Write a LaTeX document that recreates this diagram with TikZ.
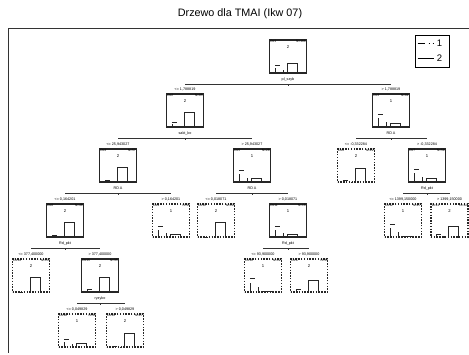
\documentclass[tikz,border=0pt]{standalone}
\usepackage{fontspec}
\setmainfont{Liberation Sans}
\usetikzlibrary{positioning,calc}

% one node of the tree: name, x, y, style, id, N, class, h1, h2
\newcommand{\tnode}[9]{%
  \node[#4] (#1) at (#2,#3) {};
  \node[idl,anchor=north west] (#1id) at ([shift={(1.2,-1)}]#1.north west) {Dx#5};
  \node[idl,anchor=north east] (#1n) at ([shift={(-1.2,-1)}]#1.north east) {N=#6};
  \node[cls] (#1c) at ([yshift=-8]#1.north) {#7};
  \draw[plt] ([xshift=6]#1.south west) -- ++(0,{0.7*#8});
  \draw[plt] ([shift={(6,#8)}]#1.south west) -- ++(5,0);
  \draw[plt] ([xshift=14]#1.south west) -- ++(0,{0.4*#8});
  \draw[plt] ([xshift=18]#1.south west) -- ++(0,#9) -- ++(10,0) -- ++(0,-#9);
}
% split below a node: parent, left child, right child, variable
\newcommand{\tsplit}[4]{%
  \node[spl] (#1s) at ([yshift=-6]#1.south) {#4};
  \coordinate (#1j) at ([yshift=-11]#1.south);
  \draw[brk] (#1j -| #2) -- (#1j -| #3);
  \draw[brk] (#1j) -- ++(0,-1.5);
}

\begin{document}
\begin{tikzpicture}[x=1pt,y=1pt,
    nd/.style={draw=black!85,line width=1.1pt,minimum width=37pt,minimum height=33pt,inner sep=0pt},
    term/.style={nd,dash pattern=on 1.4pt off 1.4pt},
    idl/.style={font=\fontsize{3.2}{3.5}\selectfont,inner sep=0pt},
    cls/.style={font=\fontsize{4.2}{5}\selectfont,inner sep=0pt},
    thr/.style={font=\fontsize{3.7}{4}\selectfont,inner sep=0pt},
    spl/.style={font=\fontsize{3.7}{4}\selectfont,inner sep=0pt},
    plt/.style={line width=0.8pt,black!85},
    brk/.style={line width=0.9pt,black!80},
    lgt/.style={font=\fontsize{9.5}{10}\selectfont,inner sep=0pt}
    ]
  \useasboundingbox (0,0) rectangle (469,354);
  \node[font=\fontsize{10.8}{12}\selectfont] (title) at (240,340) {Drzewo dla TMAI (Ikw 07)};
  \draw[line width=0.8pt,black!80] (469,326) -- (8,326) -- (8,1);

  % legend
  \node[draw,line width=0.7pt,minimum width=34pt,minimum height=32pt,inner sep=0pt] (leg) at (432,303) {};
  \draw[line width=0.8pt,dash pattern=on 7pt off 4pt on 1pt off 3pt] ([shift={(3,-9)}]leg.north west) coordinate (l1a) -- ++(16,0) coordinate (l1b);
  \node[lgt,anchor=west] (leg1) at ([xshift=3]l1b) {1};
  \draw[line width=0.8pt] ([shift={(3,-24)}]leg.north west) coordinate (l2a) -- ++(16,0) coordinate (l2b);
  \node[lgt,anchor=west] (leg2) at ([xshift=3]l2b) {2};

  % nodes
  \tnode{d1}{288}{297.5}{nd}{1}{166}{2}{8}{10}
  \tnode{d2}{185}{243.5}{nd}{2}{85}{2}{5}{15}
  \tnode{d3}{391}{243.5}{nd}{3}{81}{1}{13}{4}
  \tnode{d4}{118}{188.5}{nd}{4}{57}{2}{2}{15}
  \tnode{d5}{252}{188.5}{nd}{5}{28}{1}{12}{4}
  \tnode{d6}{356}{188.5}{term}{6}{22}{2}{2}{14}
  \tnode{d7}{427}{188.5}{nd}{7}{59}{1}{13}{4}
  \tnode{d8}{65}{133.5}{nd}{8}{48}{2}{2}{15}
  \tnode{d9}{171}{133.5}{term}{9}{9}{1}{11}{3}
  \tnode{d10}{216}{133.5}{term}{10}{10}{2}{0}{15}
  \tnode{d11}{288}{133.5}{nd}{11}{18}{1}{11}{3}
  \tnode{d12}{403}{133.5}{term}{12}{27}{1}{13}{1}
  \tnode{d13}{449.5}{133.5}{term}{13}{32}{2}{3}{11}
  \tnode{d14}{31}{78.5}{term}{14}{13}{2}{0}{15}
  \tnode{d15}{100}{78.5}{nd}{15}{35}{2}{3}{15}
  \tnode{d16}{263}{78.5}{term}{16}{12}{1}{14}{1}
  \tnode{d17}{309}{78.5}{term}{17}{6}{2}{3}{12}
  \tnode{d18}{77}{23.5}{term}{18}{8}{1}{8}{4}
  \tnode{d19}{125}{23.5}{term}{19}{27}{2}{1}{14}

  % splits
  \tsplit{d1}{d2}{d3}{pl\_szyb}
  \tsplit{d2}{d4}{d5}{sakt\_ko}
  \tsplit{d3}{d6}{d7}{RD A}
  \tsplit{d4}{d8}{d9}{RD A}
  \tsplit{d5}{d10}{d11}{RD A}
  \tsplit{d7}{d12}{d13}{Rd\_pkt}
  \tsplit{d8}{d14}{d15}{Rd\_pkt}
  \tsplit{d11}{d16}{d17}{Rd\_pkt}
  \tsplit{d15}{d18}{d19}{ryzyko}

  % split values
  \node[thr] (d2t) at ([yshift=4]d2.north) {<= 1,788819};
  \node[thr] (d3t) at ([yshift=4]d3.north) {> 1,788819};
  \node[thr] (d4t) at ([yshift=4]d4.north) {<= 25,943027};
  \node[thr] (d5t) at ([yshift=4]d5.north) {> 25,943027};
  \node[thr] (d6t) at ([yshift=4]d6.north) {<= -0,332284};
  \node[thr] (d7t) at ([yshift=4]d7.north) {> -0,332284};
  \node[thr] (d8t) at ([yshift=4]d8.north) {<= 0,164201};
  \node[thr] (d9t) at ([yshift=4]d9.north) {> 0,164201};
  \node[thr] (d10t) at ([yshift=4]d10.north) {<= 0,018071};
  \node[thr] (d11t) at ([yshift=4]d11.north) {> 0,018071};
  \node[thr] (d12t) at ([yshift=4]d12.north) {<= 1399,150000};
  \node[thr] (d13t) at ([yshift=4]d13.north) {> 1399,150000};
  \node[thr] (d14t) at ([yshift=4]d14.north) {<= 377,400000};
  \node[thr] (d15t) at ([yshift=4]d15.north) {> 377,400000};
  \node[thr] (d16t) at ([yshift=4]d16.north) {<= 93,900000};
  \node[thr] (d17t) at ([yshift=4]d17.north) {> 93,900000};
  \node[thr] (d18t) at ([yshift=4]d18.north) {<= 0,049829};
  \node[thr] (d19t) at ([yshift=4]d19.north) {> 0,049829};
\end{tikzpicture}
\end{document}
